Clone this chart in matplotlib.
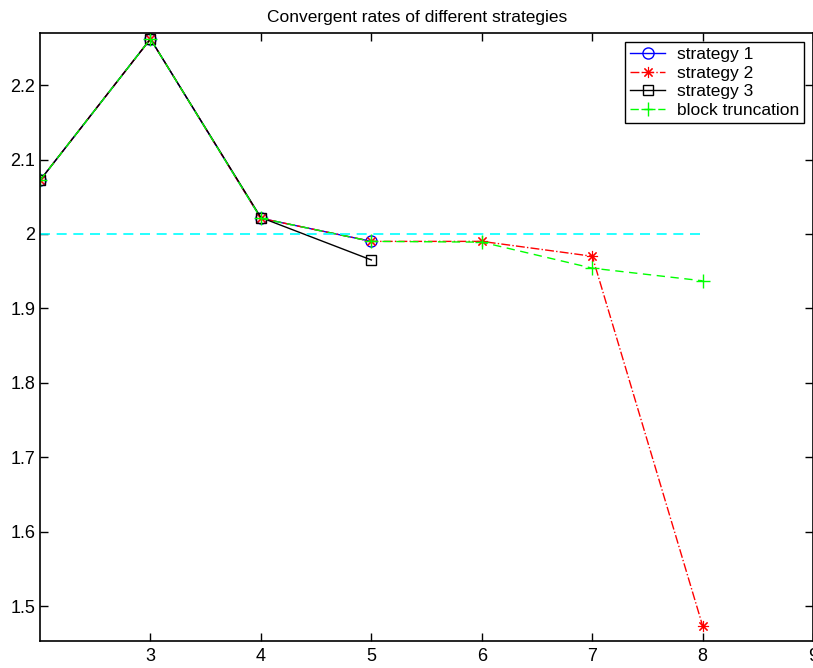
import matplotlib.pyplot as plt

plt.rcParams['font.family'] = ['Liberation Sans', 'DejaVu Sans']

# data
x1 = [2, 3, 4, 5]
s1 = [2.072, 2.262, 2.021, 1.990]
x2 = [2, 3, 4, 5, 6, 7, 8]
s2 = [2.072, 2.262, 2.021, 1.990, 1.990, 1.970, 1.473]
x3 = [2, 3, 4, 5]
s3 = [2.072, 2.262, 2.022, 1.965]
xb = [2, 3, 4, 5, 6, 7, 8]
sb = [2.072, 2.262, 2.021, 1.990, 1.989, 1.954, 1.937]
ref_x = [2, 8]
ref_y = [2.0, 2.0]

fig = plt.figure(figsize=(8.13, 6.68), dpi=100)
ax = fig.add_axes([0.0492, 0.0404, 0.951, 0.9102])

ax.plot(x1, s1, color='blue', ls='-', lw=1, marker='o', ms=8, mfc='none', mew=1, label='strategy 1')
ax.plot(x2, s2, color='red', ls='-.', lw=1, marker=(8, 2, 0), ms=8, mew=0.8, label='strategy 2')
ax.plot(x3, s3, color='black', ls='-', lw=1, marker='s', ms=7, mfc='none', mew=1, label='strategy 3')
ax.plot(xb, sb, color=(0, 1, 0), ls=(0, (6, 4)), lw=1, marker='+', ms=10, mew=1, label='block truncation')
ax.plot(ref_x, ref_y, color='cyan', ls=(0, (6, 4)), lw=1.2)

ax.set_xlim(2, 9)
ax.set_ylim(1.453, 2.27)
ax.set_xticks([3, 4, 5, 6, 7, 8, 9])
ax.set_yticks([1.5, 1.6, 1.7, 1.8, 1.9, 2.0, 2.1, 2.2])
ax.set_yticklabels(['1.5', '1.6', '1.7', '1.8', '1.9', '2', '2.1', '2.2'])
ax.tick_params(direction='in', top=True, right=True, length=6, width=1, labelsize=13)
ax.tick_params(axis='x', pad=5)
ax.tick_params(axis='y', pad=3.5)
for s in ax.spines.values():
    s.set_linewidth(1.2)

ax.set_title('Convergent rates of different strategies', fontsize=12.5, pad=8, x=0.488)
leg = ax.legend(loc='upper right', fontsize=12.5, fancybox=False, framealpha=1,
                edgecolor='black', borderaxespad=0.5, handlelength=2.0,
                labelspacing=0.2, borderpad=0.3, handletextpad=0.7)
leg.get_frame().set_linewidth(1)

plt.savefig('out.png', dpi=100)
